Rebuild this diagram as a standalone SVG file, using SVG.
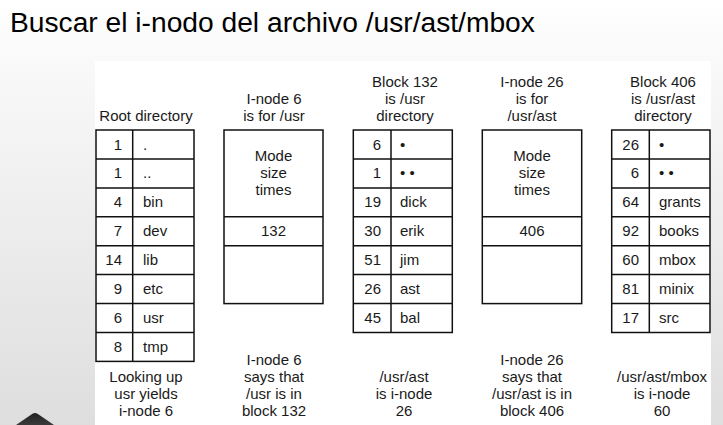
<svg xmlns="http://www.w3.org/2000/svg" width="723" height="425" viewBox="0 0 723 425">
  <defs>
    <linearGradient id="bg" x1="0" y1="0" x2="0" y2="1">
      <stop offset="0" stop-color="#ffffff"/>
      <stop offset="0.15" stop-color="#f9f9f9"/>
      <stop offset="1" stop-color="#dedede"/>
    </linearGradient>
    <linearGradient id="logo" x1="0" y1="0" x2="0" y2="1">
      <stop offset="0" stop-color="#222222"/>
      <stop offset="1" stop-color="#3a3a3a"/>
    </linearGradient>
  </defs>
  <style>
    text { font-family: "Liberation Sans", Arial, Helvetica, sans-serif; fill: #1a1a1a; }
    .t { font-size: 15px; }
    .c { text-anchor: middle; }
    .r { text-anchor: end; }
    .box { fill: none; stroke: #111111; stroke-width: 1.5; }
    .ln { stroke: #111111; stroke-width: 1.5; }
    .title { font-size: 28.2px; fill: #000000; }
  </style>

  <rect x="0" y="0" width="723" height="425" fill="url(#bg)"/>
  <rect x="95" y="61" width="616" height="364" fill="#ffffff"/>
  <path d="M16,425 L32.5,413.8 Q35,412.2 37.5,413.8 L54,425 Z" fill="url(#logo)"/>

  <text class="title" x="10" y="31.5">Buscar el i-nodo del archivo /usr/ast/mbox</text>

  <g id="root-directory">
    <text class="t c" x="146" y="121">Root directory</text>
    <rect class="box" x="96" y="130" width="98" height="231.4"/>
    <line class="ln" x1="132.7" y1="130" x2="132.7" y2="361.4"/>
    <line class="ln" x1="96" y1="158.9" x2="194" y2="158.9"/>
    <line class="ln" x1="96" y1="187.9" x2="194" y2="187.9"/>
    <line class="ln" x1="96" y1="216.8" x2="194" y2="216.8"/>
    <line class="ln" x1="96" y1="245.7" x2="194" y2="245.7"/>
    <line class="ln" x1="96" y1="274.6" x2="194" y2="274.6"/>
    <line class="ln" x1="96" y1="303.6" x2="194" y2="303.6"/>
    <line class="ln" x1="96" y1="332.5" x2="194" y2="332.5"/>
    <g class="t">
      <text class="r" x="122" y="149.5">1</text><text x="143" y="149.5">.</text>
      <text class="r" x="122" y="178.4">1</text><text x="143" y="178.4">..</text>
      <text class="r" x="122" y="207.3">4</text><text x="143" y="207.3">bin</text>
      <text class="r" x="122" y="236.2">7</text><text x="143" y="236.2">dev</text>
      <text class="r" x="122" y="265.1">14</text><text x="143" y="265.1">lib</text>
      <text class="r" x="122" y="294">9</text><text x="143" y="294">etc</text>
      <text class="r" x="122" y="323">6</text><text x="143" y="323">usr</text>
      <text class="r" x="122" y="352">8</text><text x="143" y="352">tmp</text>
    </g>
    <text class="t c" x="146" y="382">Looking up</text>
    <text class="t c" x="146" y="399">usr yields</text>
    <text class="t c" x="146" y="416">i-node 6</text>
  </g>

  <g id="inode-6">
    <text class="t c" x="274" y="104">I-node 6</text>
    <text class="t c" x="274" y="121">is for /usr</text>
    <rect class="box" x="224" y="130" width="99" height="173.6"/>
    <line class="ln" x1="224" y1="216.8" x2="323" y2="216.8"/>
    <line class="ln" x1="224" y1="245.7" x2="323" y2="245.7"/>
    <text class="t c" x="273.5" y="161">Mode</text>
    <text class="t c" x="273.5" y="178">size</text>
    <text class="t c" x="273.5" y="195">times</text>
    <text class="t c" x="273.5" y="236.2">132</text>
    <text class="t c" x="274" y="365">I-node 6</text>
    <text class="t c" x="274" y="382">says that</text>
    <text class="t c" x="274" y="399">/usr is in</text>
    <text class="t c" x="274" y="416">block 132</text>
  </g>

  <g id="block-132">
    <text class="t c" x="405" y="87">Block 132</text>
    <text class="t c" x="405" y="104">is /usr</text>
    <text class="t c" x="405" y="121">directory</text>
    <rect class="box" x="353.3" y="130" width="99" height="202.5"/>
    <line class="ln" x1="391" y1="130" x2="391" y2="332.5"/>
    <line class="ln" x1="353.3" y1="158.9" x2="452.3" y2="158.9"/>
    <line class="ln" x1="353.3" y1="187.9" x2="452.3" y2="187.9"/>
    <line class="ln" x1="353.3" y1="216.8" x2="452.3" y2="216.8"/>
    <line class="ln" x1="353.3" y1="245.7" x2="452.3" y2="245.7"/>
    <line class="ln" x1="353.3" y1="274.6" x2="452.3" y2="274.6"/>
    <line class="ln" x1="353.3" y1="303.6" x2="452.3" y2="303.6"/>
    <g class="t">
      <text class="r" x="381" y="149.5">6</text><text x="400" y="149.5">•</text>
      <text class="r" x="381" y="178.4">1</text><text x="400" y="178.4">• •</text>
      <text class="r" x="381" y="207.3">19</text><text x="400" y="207.3">dick</text>
      <text class="r" x="381" y="236.2">30</text><text x="400" y="236.2">erik</text>
      <text class="r" x="381" y="265.1">51</text><text x="400" y="265.1">jim</text>
      <text class="r" x="381" y="294">26</text><text x="400" y="294">ast</text>
      <text class="r" x="381" y="323">45</text><text x="400" y="323">bal</text>
    </g>
    <text class="t c" x="404" y="382">/usr/ast</text>
    <text class="t c" x="404" y="399">is i-node</text>
    <text class="t c" x="404" y="416">26</text>
  </g>

  <g id="inode-26">
    <text class="t c" x="532" y="87">I-node 26</text>
    <text class="t c" x="532" y="104">is for</text>
    <text class="t c" x="532" y="121">/usr/ast</text>
    <rect class="box" x="482.3" y="130" width="99.4" height="173.6"/>
    <line class="ln" x1="482.3" y1="216.8" x2="581.7" y2="216.8"/>
    <line class="ln" x1="482.3" y1="245.7" x2="581.7" y2="245.7"/>
    <text class="t c" x="532" y="161">Mode</text>
    <text class="t c" x="532" y="178">size</text>
    <text class="t c" x="532" y="195">times</text>
    <text class="t c" x="532" y="236.2">406</text>
    <text class="t c" x="532" y="365">I-node 26</text>
    <text class="t c" x="532" y="382">says that</text>
    <text class="t c" x="532" y="399">/usr/ast is in</text>
    <text class="t c" x="532" y="416">block 406</text>
  </g>

  <g id="block-406">
    <text class="t c" x="663" y="87">Block 406</text>
    <text class="t c" x="663" y="104">is /usr/ast</text>
    <text class="t c" x="663" y="121">directory</text>
    <rect class="box" x="611.7" y="130" width="98.3" height="202.5"/>
    <line class="ln" x1="649.3" y1="130" x2="649.3" y2="332.5"/>
    <line class="ln" x1="611.7" y1="158.9" x2="710" y2="158.9"/>
    <line class="ln" x1="611.7" y1="187.9" x2="710" y2="187.9"/>
    <line class="ln" x1="611.7" y1="216.8" x2="710" y2="216.8"/>
    <line class="ln" x1="611.7" y1="245.7" x2="710" y2="245.7"/>
    <line class="ln" x1="611.7" y1="274.6" x2="710" y2="274.6"/>
    <line class="ln" x1="611.7" y1="303.6" x2="710" y2="303.6"/>
    <g class="t">
      <text class="r" x="639" y="149.5">26</text><text x="659" y="149.5">•</text>
      <text class="r" x="639" y="178.4">6</text><text x="659" y="178.4">• •</text>
      <text class="r" x="639" y="207.3">64</text><text x="659" y="207.3">grants</text>
      <text class="r" x="639" y="236.2">92</text><text x="659" y="236.2">books</text>
      <text class="r" x="639" y="265.1">60</text><text x="659" y="265.1">mbox</text>
      <text class="r" x="639" y="294">81</text><text x="659" y="294">minix</text>
      <text class="r" x="639" y="323">17</text><text x="659" y="323">src</text>
    </g>
    <text class="t c" x="662" y="382">/usr/ast/mbox</text>
    <text class="t c" x="662" y="399">is i-node</text>
    <text class="t c" x="662" y="416">60</text>
  </g>

  <g id="connectors"/>
</svg>
